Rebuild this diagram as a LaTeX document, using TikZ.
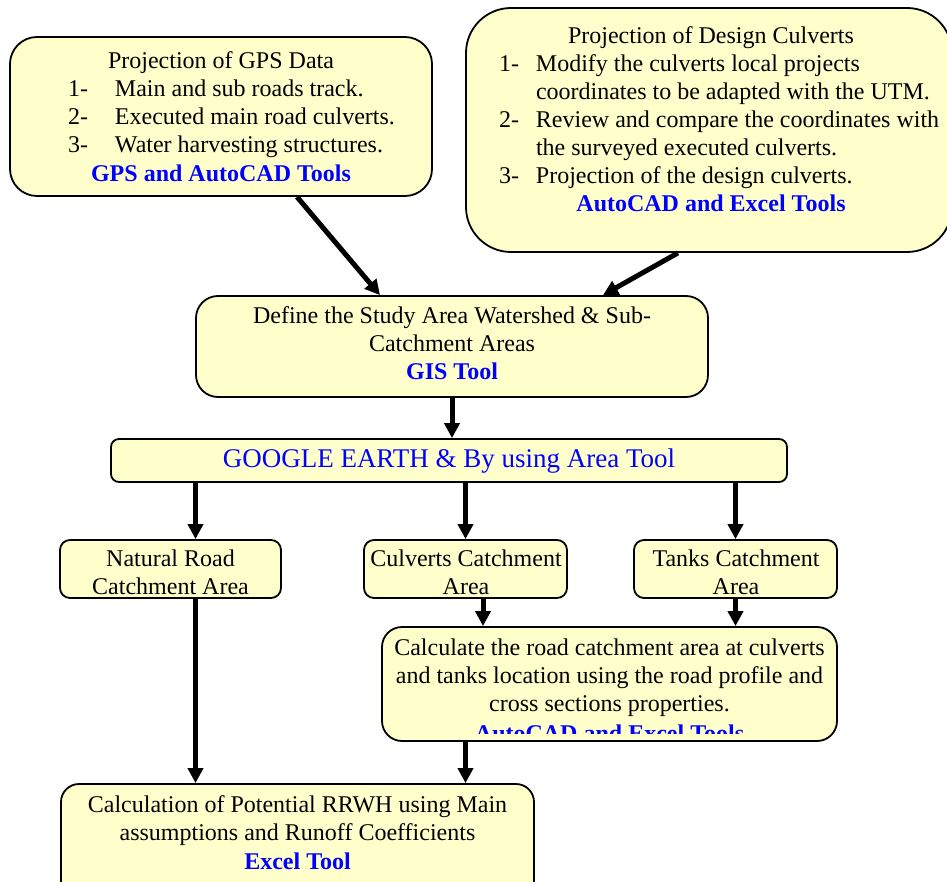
\documentclass[tikz,border=0pt]{standalone}
\usepackage{fontspec}
\setmainfont{Liberation Serif}
\usetikzlibrary{arrows.meta}
\definecolor{boxfill}{HTML}{FFFFCC}
\definecolor{tblue}{HTML}{0000FF}
\newcommand{\bluetool}[1]{\textcolor{tblue}{\textbf{#1}}}
\begin{document}
\begin{tikzpicture}[x=1pt,y=-1pt,
  box/.style={draw=black, line width=1.8pt, fill=boxfill, inner sep=0pt},
  txt/.style={inner sep=0pt, align=center, font=\fontsize{24}{28}\selectfont},
  arr/.style={line width=5pt, -{Triangle[length=15pt,width=15pt]}}
]
\useasboundingbox (0,0) rectangle (947,882);

% boxes
\node[box, rounded corners=27pt, minimum width=422pt, minimum height=159pt] (gps) at (221,116.5) {};
\node[box, rounded corners=45pt, minimum width=486pt, minimum height=244pt] (des) at (709,130) {};
\node[box, rounded corners=22pt, minimum width=512pt, minimum height=101pt] (gis) at (452,346.5) {};
\node[box, rounded corners=8pt, minimum width=676pt, minimum height=43pt] (ge) at (449,460.5) {};
\node[box, rounded corners=10pt, minimum width=221pt, minimum height=58pt] (nat) at (170.5,569) {};
\node[box, rounded corners=10pt, minimum width=203pt, minimum height=58pt] (cul) at (465.5,569) {};
\node[box, rounded corners=10pt, minimum width=203pt, minimum height=58pt] (tank) at (735.5,569) {};
\node[box, rounded corners=20pt, minimum width=455pt, minimum height=114pt] (calc) at (609.5,684) {};
\node[box, rounded corners=18pt, minimum width=473pt, minimum height=116pt] (bot) at (297.5,842) {};

% texts
\node[txt, anchor=north] (gpst) at (221,48.4) {\strut Projection of GPS Data\\
\makebox[306pt][l]{\makebox[47pt][l]{1-}Main and sub roads track.}\\
\makebox[306pt][l]{\makebox[47pt][l]{2-}Executed main road culverts.}\\
\makebox[306pt][l]{\makebox[47pt][l]{3-}Water harvesting structures.}\\[1pt]
\bluetool{GPS and AutoCAD Tools}};

\node[txt, anchor=north] (dest) at (711,23.4) {\strut Projection of Design Culverts\\
\makebox[424pt][l]{\makebox[37pt][l]{1-}Modify the culverts local projects}\\
\makebox[424pt][l]{\hspace*{37pt}coordinates to be adapted with the UTM.}\\
\makebox[424pt][l]{\makebox[37pt][l]{2-}Review and compare the coordinates with}\\
\makebox[424pt][l]{\hspace*{37pt}the surveyed executed culverts.}\\
\makebox[424pt][l]{\makebox[37pt][l]{3-}Projection of the design culverts.}\\
\bluetool{AutoCAD and Excel Tools}};

\node[txt, anchor=north] (gist) at (452,303.4) {\strut Define the Study Area Watershed \& Sub-\\
Catchment Areas\\
\bluetool{GIS Tool}};

\node[inner sep=0pt, anchor=base, font=\fontsize{27}{31}\selectfont, text=tblue] (get) at (449,467) {GOOGLE EARTH \& By using Area Tool};

\node[txt, anchor=north] (natt) at (170.5,546.4) {\strut Natural Road\\ Catchment Area};
\node[txt, anchor=north] (cult) at (466,546.4) {\strut Culverts Catchment\\ Area};
\node[txt, anchor=north] (tankt) at (736,546.4) {\strut Tanks Catchment\\ Area};

\node[txt, anchor=north] (calct) at (609.5,635.4) {\strut Calculate the road catchment area at culverts\\
and tanks location using the road profile and\\
cross sections properties.};
\begin{scope}
\clip (382,700) rectangle (837,733);
\node[txt, anchor=base] (calcb) at (609.5,741) {\bluetool{AutoCAD and Excel Tools}};
\end{scope}

\node[txt, anchor=north] (bott) at (297.5,792.4) {\strut Calculation of Potential RRWH using Main\\
assumptions and Runoff Coefficients\\[1pt]
\bluetool{Excel Tool}};

% connectors
\coordinate (cn) at (195.5,0);
\coordinate (cc) at (483,0);
\draw[arr] ([xshift=76pt]gps.south) -- ([xshift=-72pt]gis.north);
\draw[arr] ([xshift=-31pt]des.south) -- ([xshift=151pt]gis.north);
\draw[arr] (gis.south) -- (gis.south |- ge.north);
\draw[arr] (ge.south -| cn) -- (nat.north -| cn);
\draw[arr] (ge.south -| cul.north) -- (cul.north);
\draw[arr] (ge.south -| tank.north) -- (tank.north);
\draw[arr] (cul.south -| cc) -- (calc.north -| cc);
\draw[arr] (tank.south) -- (calc.north -| tank.south);
\draw[arr] (nat.south -| cn) -- (bot.north -| cn);
\draw[arr] (calc.south -| cul.north) -- (bot.north -| cul.north);
\end{tikzpicture}
\end{document}
